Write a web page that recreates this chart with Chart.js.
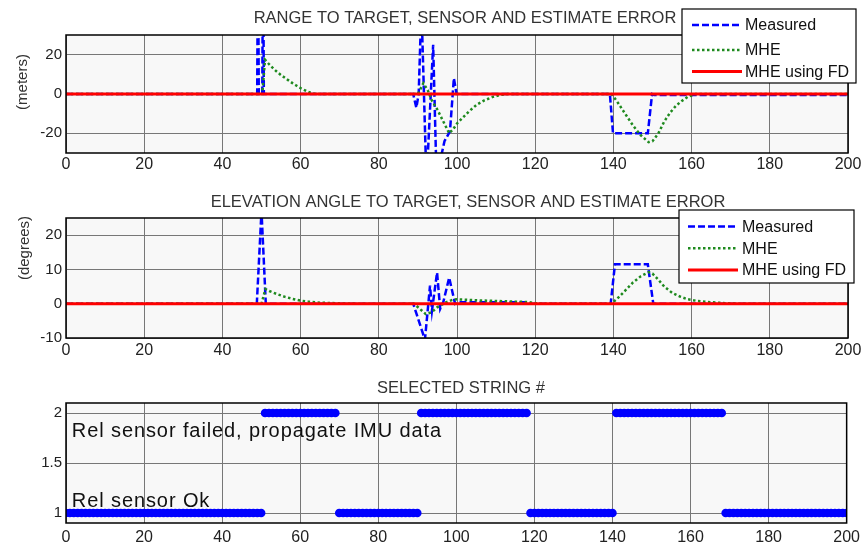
<!DOCTYPE html>
<html>
<head>
<meta charset="utf-8">
<script src="https://cdn.jsdelivr.net/npm/chart.js@4.4.1/dist/chart.umd.min.js"></script>
<style>
html, body { margin: 0; padding: 0; background: #fff; }
canvas { position: absolute; left: 0; }
</style>
</head>
<body>
<canvas id="rangeChart" width="865" height="182" style="top:0px"></canvas>
<canvas id="elevChart" width="865" height="182" style="top:183px"></canvas>
<canvas id="stringChart" width="865" height="180" style="top:365px"></canvas>
<script>
// ---- data ----
var xTicks = [0, 20, 40, 60, 80, 100, 120, 140, 160, 180, 200];
var rangeTicks = [-20, 0, 20];
var elevTicks = [-10, 0, 10, 20];
var stringTicks = [1, 1.5, 2];
var seriesLabels = ['Measured', 'MHE', 'MHE using FD'];

// range error (meters), [time, value]
var rangeMeasured = [[0,0],[48.9,0],[49.1,80],[49.3,0],[50.2,0],[50.4,80],[50.6,0],[88.8,0],[89.6,-7],[90.2,0],
    [90.9,45],[92.2,-45],[93.9,25],[94.8,-45],[95.8,-33],[96.8,-24],[98.2,-19],[99.2,8],[99.9,0],[139.1,0],
    [139.9,-20],[148.8,-20],[149.9,0],[150.5,-0.5],[200,-0.5]];
var rangeMHE = [[0,0],[50.2,0],[50.9,17.4],[52,15],[53,13],[54,11.2],[55,9.6],[56,8.2],[57,6.8],[58,5.4],[59,4.2],
    [60,3.0],[61,2.0],[62,1.0],[63,0.4],[64,0],[90,0],[91.4,5.5],[92.5,2],[93.5,-3],[95,-8],[96.5,-14],[98,-20],
    [99,-18],[100,-15],[101.5,-12],[103,-9],[105,-5.5],[107,-3.2],[109,-1.6],[111,-0.5],[113,0],[139.5,0],
    [141,-4],[143,-10],[145,-16],[147,-21],[149,-24.5],[150,-24],[151.5,-20],[153,-14],[154.5,-9.5],[156,-6],
    [157.5,-3.5],[159,-1.5],[161,0],[200,0]];
var rangeFD = [[0,0],[200,0]];

// elevation error (degrees), [time, value]
var elevMeasured = [[0,0],[48.8,0],[50,27],[51.1,0],[88.8,0],[91.8,-10.5],[93.1,5.3],[93.6,-2],[94.9,9.1],
    [95.7,-1.5],[96.5,0.5],[98,7.6],[99.5,0],[100,0.4],[118,0.4],[118.5,0],[139.3,0],[140.4,11.5],[148.8,11.5],
    [150.2,0],[200,0]];
var elevMHE = [[0,0],[50,0],[51,4.3],[52,3.7],[54,2.8],[56,2.0],[58,1.4],[60,0.9],[62,0.6],[65,0.3],[70,0.1],
    [75,0],[89,0],[90.5,-1.5],[92,-3],[93.5,-2.5],[95,-1],[97,0.3],[99,1.2],[100,1.3],[105,1],[110,0.8],
    [115,0.6],[118,0.5],[120,0.2],[122,0],[139.5,0],[141,1.5],[143,3.8],[145,6.2],[147,8.0],[149,9.2],
    [150,8.8],[151.5,7.0],[153,5.0],[155,3.2],[157,2.1],[159,1.3],[161,0.9],[164,0.5],[168,0.2],[172,0],[200,0]];
var elevFD = [[0,0],[200,0]];

// selected string # at each sample 0..200
var selectedString = [
    1,1,1,1,1,1,1,1,1,1,1,1,1,1,1,1,1,1,1,1,
    1,1,1,1,1,1,1,1,1,1,1,1,1,1,1,1,1,1,1,1,
    1,1,1,1,1,1,1,1,1,1,1,2,2,2,2,2,2,2,2,2,
    2,2,2,2,2,2,2,2,2,2,1,1,1,1,1,1,1,1,1,1,
    1,1,1,1,1,1,1,1,1,1,1,2,2,2,2,2,2,2,2,2,
    2,2,2,2,2,2,2,2,2,2,2,2,2,2,2,2,2,2,2,1,
    1,1,1,1,1,1,1,1,1,1,1,1,1,1,1,1,1,1,1,1,
    1,2,2,2,2,2,2,2,2,2,2,2,2,2,2,2,2,2,2,2,
    2,2,2,2,2,2,2,2,2,1,1,1,1,1,1,1,1,1,1,1,
    1,1,1,1,1,1,1,1,1,1,1,1,1,1,1,1,1,1,1,1,
    1
];

var FONT = "'Liberation Sans', Arial, sans-serif";

function toPoints(pairs) {
    return pairs.map(function(p) { return {x: p[0], y: p[1]}; });
}

// background, box, title, y label, notes and legend drawn at fixed spots
var panelPlugin = {
    id: 'panel',
    beforeDraw: function(chart) {
        var ctx = chart.ctx, a = chart.chartArea;
        ctx.save();
        ctx.fillStyle = '#f8f8f8';
        ctx.fillRect(a.left, a.top, a.right - a.left, a.bottom - a.top);
        ctx.restore();
    },
    afterDraw: function(chart, args, opts) {
        var ctx = chart.ctx, a = chart.chartArea;
        ctx.save();
        ctx.strokeStyle = '#000';
        ctx.lineWidth = 1.5;
        ctx.strokeRect(a.left, a.top, a.right - a.left, a.bottom - a.top);

        ctx.fillStyle = '#333';
        ctx.font = opts.titleFont + ' ' + FONT;
        ctx.textAlign = 'center';
        ctx.textBaseline = 'alphabetic';
        ctx.fillText(opts.title, opts.titleX, opts.titleY);

        if (opts.yLabel) {
            ctx.save();
            ctx.translate(opts.yLabel.x, opts.yLabel.y);
            ctx.rotate(-Math.PI / 2);
            ctx.font = '15px ' + FONT;
            ctx.textBaseline = 'middle';
            ctx.fillText(opts.yLabel.text, 0, 0);
            ctx.restore();
        }

        (opts.notes || []).forEach(function(n) {
            ctx.save();
            ctx.fillStyle = '#111';
            ctx.font = '20px ' + FONT;
            ctx.letterSpacing = '0.9px';
            ctx.textAlign = 'left';
            ctx.fillText(n.text, chart.scales.x.getPixelForValue(n.x), chart.scales.y.getPixelForValue(n.y));
            ctx.restore();
        });

        var lg = opts.legend;
        if (lg) {
            ctx.fillStyle = '#fff';
            ctx.fillRect(lg.left, lg.top, lg.right - lg.left, lg.bottom - lg.top);
            ctx.strokeStyle = '#000';
            ctx.lineWidth = 1.2;
            ctx.strokeRect(lg.left, lg.top, lg.right - lg.left, lg.bottom - lg.top);
            chart.data.datasets.forEach(function(ds, i) {
                var y = lg.rows[i];
                ctx.save();
                ctx.strokeStyle = ds.borderColor;
                ctx.lineWidth = ds.borderWidth;
                ctx.setLineDash(ds.borderDash || []);
                ctx.beginPath();
                ctx.moveTo(lg.sampleX[0], y);
                ctx.lineTo(lg.sampleX[1], y);
                ctx.stroke();
                ctx.restore();
                ctx.fillStyle = '#111';
                ctx.font = '16px ' + FONT;
                ctx.textAlign = 'left';
                ctx.textBaseline = 'middle';
                ctx.fillText(ds.label, lg.textX, y + 1);
            });
        }
        ctx.restore();
    }
};

function lineSets(measured, mhe, fd) {
    return [
        {label: seriesLabels[0], data: toPoints(measured), borderColor: '#0000ff', borderWidth: 2.5,
         borderDash: [7, 3], order: 3},
        {label: seriesLabels[1], data: toPoints(mhe), borderColor: '#1f8a1f', borderWidth: 2.5,
         borderDash: [2.5, 2.5], order: 2},
        {label: seriesLabels[2], data: toPoints(fd), borderColor: '#ff0000', borderWidth: 3, order: 1}
    ];
}

function makeChart(id, datasets, cfg) {
    return new Chart(document.getElementById(id), {
        type: 'line',
        data: {datasets: datasets},
        plugins: [panelPlugin],
        options: {
            responsive: false,
            animation: false,
            layout: {padding: {top: cfg.plotTop, left: 0, right: 17, bottom: 0}},
            elements: {point: {radius: 0}, line: {tension: 0}},
            scales: {
                x: {
                    type: 'linear', min: 0, max: 200,
                    afterBuildTicks: function(s) { s.ticks = xTicks.map(function(v) { return {value: v}; }); },
                    afterFit: function(s) { s.height = cfg.height - cfg.plotBottom; },
                    grid: {color: '#777', lineWidth: 1, drawTicks: false},
                    border: {display: false},
                    ticks: {padding: cfg.xPad, color: '#222', font: {family: FONT, size: 16}, maxRotation: 0}
                },
                y: {
                    type: 'linear', min: cfg.yMin, max: cfg.yMax,
                    afterBuildTicks: function(s) { s.ticks = cfg.yTicks.map(function(v) { return {value: v}; }); },
                    afterFit: function(s) { s.width = 66; },
                    grid: {color: '#777', lineWidth: 1, drawTicks: false},
                    border: {display: false},
                    ticks: {padding: 4, color: '#222', font: {family: FONT, size: 15},
                            callback: function(v) { return String(v); }}
                }
            },
            plugins: {
                legend: {display: false},
                tooltip: {enabled: false},
                panel: cfg.panel
            }
        }
    });
}

makeChart('rangeChart', lineSets(rangeMeasured, rangeMHE, rangeFD), {
    height: 182, plotTop: 35, plotBottom: 153, xPad: 2,
    yMin: -30, yMax: 30, yTicks: rangeTicks,
    panel: {
        title: 'RANGE TO TARGET, SENSOR AND ESTIMATE ERROR', titleFont: '16.5px', titleX: 465, titleY: 23,
        yLabel: {text: '(meters)', x: 23, y: 82},
        legend: {left: 682, right: 856, top: 9, bottom: 83, rows: [25, 50, 71.5], sampleX: [692, 742], textX: 745}
    }
});

makeChart('elevChart', lineSets(elevMeasured, elevMHE, elevFD), {
    height: 182, plotTop: 35, plotBottom: 155, xPad: 3,
    yMin: -10, yMax: 25, yTicks: elevTicks,
    panel: {
        title: 'ELEVATION ANGLE TO TARGET, SENSOR AND ESTIMATE ERROR', titleFont: '16.5px', titleX: 468, titleY: 24,
        yLabel: {text: '(degrees)', x: 25, y: 65},
        legend: {left: 679, right: 854, top: 27, bottom: 100, rows: [43.5, 65.3, 87], sampleX: [688, 738], textX: 742}
    }
});

makeChart('stringChart', [{
    label: 'Selected string',
    data: selectedString.map(function(v, i) { return {x: i, y: v}; }),
    showLine: false,
    pointRadius: 4.3,
    pointBackgroundColor: '#0000ff',
    pointBorderWidth: 0,
    borderColor: '#0000ff'
}], {
    height: 180, plotTop: 38, plotBottom: 158, xPad: 5,
    yMin: 0.9, yMax: 2.1, yTicks: stringTicks,
    panel: {
        title: 'SELECTED STRING #', titleFont: '16.5px', titleX: 461, titleY: 28,
        notes: [
            {text: 'Rel sensor failed, propagate IMU data', x: 1.5, y: 1.76},
            {text: 'Rel sensor Ok', x: 1.5, y: 1.06}
        ]
    }
});
</script>
</body>
</html>
